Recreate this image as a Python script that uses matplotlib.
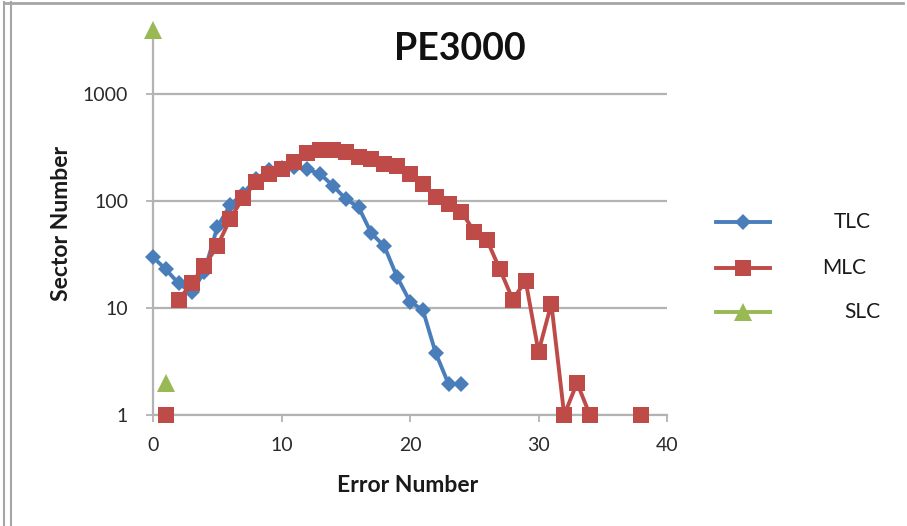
import numpy as np
import matplotlib
matplotlib.use("Agg")
import matplotlib.pyplot as plt
from matplotlib.lines import Line2D

plt.rcParams['font.family'] = ['Lato', 'DejaVu Sans']

title = "PE3000"
x_label = "Error Number"
y_label = "Sector Number"
series_names = ["TLC", "MLC", "SLC"]
colors = ["#4a7ebb", "#be4b48", "#98b954"]

tlc_x = list(range(0, 25))
tlc_y = [30, 23, 17, 14, 22, 57, 92, 118, 160, 195, 205, 210, 200, 180, 140,
         105, 88, 50, 38, 19.5, 11.5, 9.6, 3.8, 1.95, 1.95]

mlc_x = list(range(1, 39))
mlc_y = [1, 12, 17, 25, 38, 68, 108, 150, 178, 200, 235, 285, 300, 300, 290,
         262, 250, 222, 212, 178, 145, 110, 95, 80, 52, 43, 23, 12, 18, 3.9,
         11, 1, 2, 1, np.nan, np.nan, np.nan, 1]

slc_x = [0, 1]
slc_y = [4000, 2]

x_ticks = [0, 10, 20, 30, 40]
y_ticks = [1, 10, 100, 1000]

W, H = 907, 526
fig = plt.figure(figsize=(W / 100, H / 100), dpi=100)
ax = fig.add_axes([153 / W, 1 - 415 / H, (667 - 153) / W, (415 - 30) / H])

ax.set_yscale('log')
ax.set_xlim(0, 40)
ax.set_ylim(1, 4000)

# TLC
ax.plot(tlc_x, tlc_y, color=colors[0], lw=2.8, marker='D', ms=8,
        markeredgewidth=0, zorder=3, clip_on=False)
# MLC: first point (x=1) not joined to the line
ax.plot(mlc_x[1:], mlc_y[1:], color=colors[1], lw=2.8, marker='s', ms=12,
        markeredgewidth=0, zorder=4, clip_on=False)
ax.plot(mlc_x[:1], mlc_y[:1], color=colors[1], lw=0, marker='s', ms=12,
        markeredgewidth=0, zorder=4, clip_on=False)
# SLC: markers only
ax.plot(slc_x, slc_y, color=colors[2], lw=0, marker='^', ms=13,
        markeredgewidth=0, zorder=5, clip_on=False)

ax.set_yticks(y_ticks)
ax.set_yticklabels([str(v) for v in y_ticks])
ax.yaxis.set_minor_locator(matplotlib.ticker.NullLocator())
ax.set_xticks(x_ticks)
ax.set_xticklabels([str(v) for v in x_ticks])

ax.grid(axis='y', which='major', color='#b3b3b3', lw=1.6, zorder=0)
ax.set_axisbelow(True)
for s in ['top', 'right']:
    ax.spines[s].set_visible(False)
for s in ['left', 'bottom']:
    ax.spines[s].set_color('#b3b3b3')
    ax.spines[s].set_linewidth(1.6)
ax.tick_params(axis='both', colors='#b3b3b3', length=5, width=1.3,
               labelcolor='#2a2a2a', labelsize=14)
ax.tick_params(axis='y', pad=13)
ax.tick_params(axis='x', pad=11)

fig.text(460 / W, 1 - 49 / H, title, fontsize=27, fontweight='bold',
         ha='center', va='center', color='#111111')

fig.text(408 / W, 1 - 486 / H, x_label, fontsize=16.5, fontweight='bold',
         ha='center', va='center', color='#1a1a1a')
fig.text(62 / W, 1 - 223 / H, y_label, fontsize=16.5, fontweight='bold',
         ha='center', va='center', rotation=90, color='#1a1a1a')

# Legend drawn manually
legend_rows = [222, 268, 312]
markers = ['D', 's', '^']
msizes = [8, 12, 13]
label_x = [871, 866, 880]
for name, c, m, ms, yr, lx in zip(series_names, colors, markers, msizes,
                                   legend_rows, label_x):
    yf = 1 - yr / H
    fig.add_artist(Line2D([716 / W, 770 / W], [yf, yf], color=c, lw=2.8,
                          transform=fig.transFigure))
    fig.add_artist(Line2D([743 / W], [yf], color=c, marker=m, ms=ms, lw=0,
                          markeredgewidth=0, transform=fig.transFigure))
    fig.text(lx / W, yf, name, fontsize=15, ha='right', va='center',
             color='#1a1a1a')

# frame lines
for xx in [4, 11]:
    fig.add_artist(Line2D([xx / W, xx / W], [0, 1 - 2 / H], color='#a6a6a6',
                          lw=1.5, transform=fig.transFigure))
fig.add_artist(Line2D([4 / W, 903 / W], [1 - 3 / H, 1 - 3 / H], color='#a6a6a6',
                      lw=2, transform=fig.transFigure))

fig.savefig("out.png", dpi=100)
